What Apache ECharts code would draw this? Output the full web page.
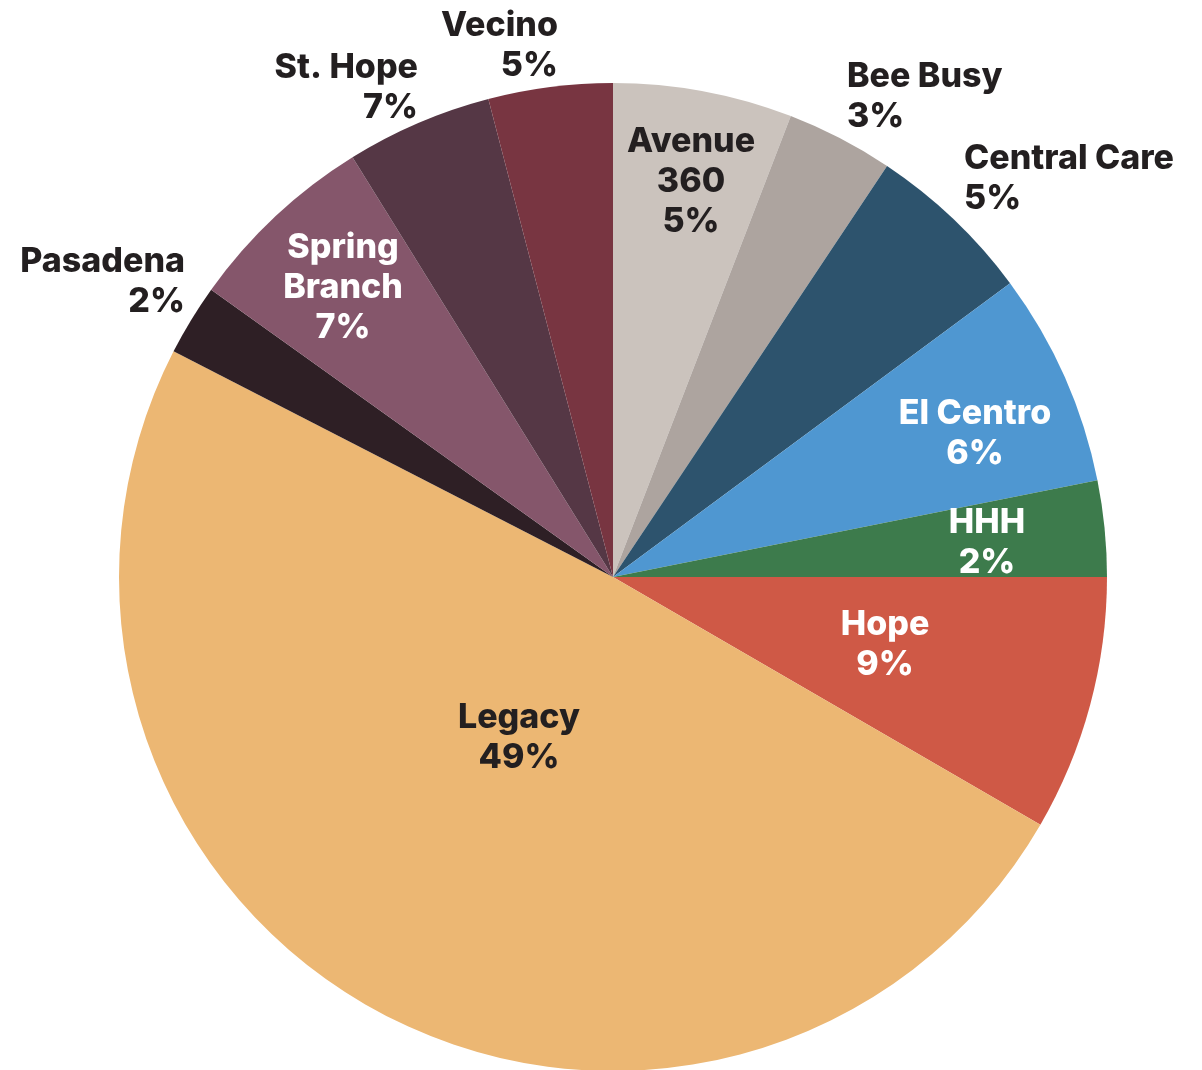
<!DOCTYPE html>
<html>
<head>
<meta charset="utf-8">
<script src="https://cdn.jsdelivr.net/npm/echarts@6/dist/echarts.min.js"></script>
<style>
html, body { margin: 0; padding: 0; background: #fff; }
#main { width: 1202px; height: 1070px; }
</style>
</head>
<body>
<div id="main"></div>
<script>
var categories = ['Avenue 360', 'Bee Busy', 'Central Care', 'El Centro', 'HHH', 'Hope',
  'Legacy', 'Pasadena', 'Spring Branch', 'St. Hope', 'Vecino']
var shares = [5.86, 3.5, 5.5, 7.0, 3.14, 8.36, 49.19, 2.33, 6.28, 4.78, 4.06]
var pctLabels = ['5%', '3%', '5%', '6%', '2%', '9%', '49%', '2%', '7%', '7%', '5%']

var colors = ['#cbc3bd', '#ada49f', '#2d536d', '#4f97d1', '#3d7b4c', '#cf5946',
  '#ecb773', '#2e1f25', '#85566b', '#553745', '#783541']
var whiteText = { 'El Centro': 1, 'HHH': 1, 'Hope': 1, 'Spring Branch': 1 }
var wrapName = { 'Avenue 360': 'Avenue\n360', 'Spring Branch': 'Spring\nBranch' }

// label anchor offsets from the pie centre, and text alignment
var cx = 613, cy = 577
var labelOffset = [[78, -395], [234, -480], [351, -398], [362, -143], [374, -34], [272, 68],
  [-94, 161], [-428, -295], [-270, -289], [-195, -489], [-55, -531]]
var labelAlign = ['center', 'left', 'left', 'center', 'center', 'center',
  'center', 'right', 'center', 'right', 'right']

var chart = echarts.init(document.getElementById('main'))
chart.setOption({
  animation: false,
  series: [{
    type: 'pie',
    center: [cx, cy],
    radius: 494,
    startAngle: 90,
    clockwise: true,
    avoidLabelOverlap: false,
    label: {
      show: true,
      position: 'inside',
      fontFamily: 'Inter',
      fontWeight: 800,
      fontSize: 34,
      lineHeight: 40,
      formatter: function (p) {
        return (wrapName[p.name] || p.name) + '\n' + pctLabels[p.dataIndex]
      }
    },
    labelLine: { show: false },
    labelLayout: function (p) {
      var o = labelOffset[p.dataIndex]
      return { x: cx + o[0], y: cy + o[1], align: labelAlign[p.dataIndex], verticalAlign: 'middle' }
    },
    data: categories.map(function (c, i) {
      return {
        name: c,
        value: shares[i],
        itemStyle: { color: colors[i] },
        label: { color: whiteText[c] ? '#ffffff' : '#231f20' }
      }
    })
  }]
})
</script>
</body>
</html>
